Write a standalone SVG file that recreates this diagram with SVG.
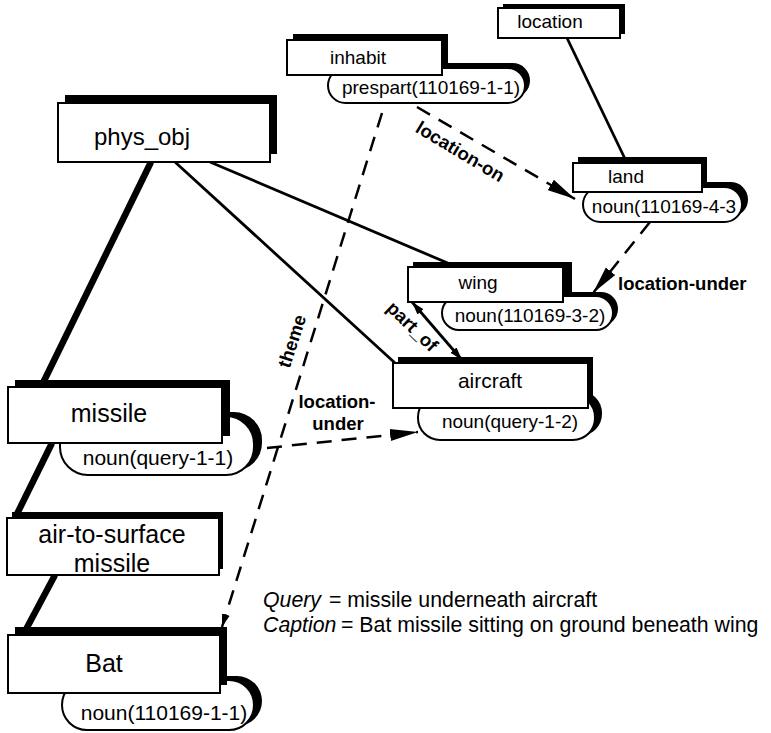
<svg xmlns="http://www.w3.org/2000/svg" width="771" height="733" viewBox="0 0 771 733">
<defs>
<style>
text{font-family:"Liberation Sans",Arial,sans-serif;fill:#000}
.lbl{text-anchor:middle}
.rel{font-weight:bold;font-size:18.5px}
.box{fill:#fff;stroke:#000;stroke-width:2}
.sh{fill:#000}
.ln{stroke:#000;fill:none;stroke-width:2.8}
.thick{stroke:#000;fill:none;stroke-width:6.5}
.dash{stroke:#000;fill:none;stroke-width:2.5;stroke-dasharray:15 10}
.cap{font-size:21.3px}
</style>
<marker id="ah" markerWidth="30" markerHeight="14" refX="28" refY="7" orient="auto" markerUnits="userSpaceOnUse">
<path d="M0,1 L28,7 L0,13 Z" fill="#000"/>
</marker>
<marker id="ahs" markerWidth="14" markerHeight="10" refX="13" refY="5" orient="auto" markerUnits="userSpaceOnUse">
<path d="M0,1 L13,5 L0,9 Z" fill="#000"/>
</marker>
<marker id="ahsStart" markerWidth="14" markerHeight="10" refX="1" refY="5" orient="auto" markerUnits="userSpaceOnUse">
<path d="M14,1 L1,5 L14,9 Z" fill="#000"/>
</marker>
</defs>

<g id="connectors">
<line class="thick" x1="151" y1="162" x2="42" y2="385"/>
<line class="ln" x1="175" y1="162" x2="395" y2="363"/>
<line class="ln" x1="210" y1="162" x2="457" y2="267"/>
<line class="thick" x1="52" y1="443" x2="15" y2="518"/>
<line class="thick" x1="55" y1="575" x2="23" y2="635"/>
<line class="ln" x1="567" y1="38" x2="627" y2="163"/>
<line class="ln" x1="412" y1="302" x2="462" y2="360" marker-start="url(#ahsStart)" marker-end="url(#ahs)"/>
<line class="dash" x1="417" y1="107" x2="575" y2="199" marker-end="url(#ah)"/>
<line class="dash" x1="650" y1="222" x2="593" y2="293" marker-end="url(#ah)"/>
<line class="dash" x1="382" y1="113" x2="222" y2="627" marker-end="url(#ahs)"/>
<line class="dash" x1="267" y1="448" x2="418" y2="432" marker-end="url(#ah)"/>
<text class="rel lbl" transform="translate(457,157) rotate(31)">location-on</text>
<text class="rel" x="618" y="290" font-size="19">location-under</text>
<text class="rel lbl" transform="translate(408,331) rotate(44)">part_of</text>
<text class="rel lbl" transform="translate(298,343) rotate(-72)">theme</text>
<text class="rel lbl" x="337" y="408">location-</text>
<text class="rel lbl" x="338" y="430">under</text>
</g>

<g id="phys_obj">
<rect class="sh" x="65" y="95" width="212" height="59"/>
<rect class="box" x="58" y="103" width="212" height="59"/>
<text class="lbl" x="142" y="145" font-size="24">phys_obj</text>
</g>

<g id="inhabit">
<rect class="sh" x="333" y="63" width="197" height="35" rx="17.5"/>
<rect class="box" x="328" y="68" width="197" height="35" rx="17.5"/>
<rect class="sh" x="293" y="34" width="155" height="35"/>
<rect class="box" x="287" y="40" width="155" height="35"/>
<text class="lbl" x="358" y="64" font-size="19">inhabit</text>
<text class="lbl" x="431" y="94" font-size="19">prespart(110169-1-1)</text>
</g>

<g id="location">
<rect class="sh" x="503" y="4" width="122" height="30"/>
<rect class="box" x="498" y="8" width="122" height="30"/>
<text class="lbl" x="550" y="28" font-size="19">location</text>
</g>

<g id="land">
<rect class="sh" x="589" y="182" width="159" height="35" rx="17.5"/>
<rect class="box" x="583" y="187" width="159" height="35" rx="17.5"/>
<rect class="sh" x="578" y="157" width="129" height="30"/>
<rect class="box" x="573" y="163" width="129" height="29"/>
<text class="lbl" x="626" y="183" font-size="19">land</text>
<text class="lbl" x="664" y="213" font-size="19">noun(110169-4-3</text>
</g>

<g id="wing">
<rect class="sh" x="447" y="292" width="171" height="34" rx="17"/>
<rect class="box" x="442" y="296" width="171" height="34" rx="17"/>
<rect class="sh" x="413" y="262" width="159" height="35"/>
<rect class="box" x="408" y="267" width="155" height="35"/>
<text class="lbl" x="478" y="289" font-size="19">wing</text>
<text class="lbl" x="530" y="322" font-size="19">noun(110169-3-2)</text>
</g>

<g id="aircraft">
<rect class="sh" x="425" y="391" width="177" height="45" rx="22"/>
<rect class="box" x="418" y="395" width="177" height="45" rx="22"/>
<rect class="sh" x="398" y="357" width="195" height="45"/>
<rect class="box" x="393" y="363" width="195" height="45"/>
<text class="lbl" x="490" y="388" font-size="21">aircraft</text>
<text class="lbl" x="510" y="428" font-size="19">noun(query-1-2)</text>
</g>

<g id="missile">
<rect class="sh" x="68" y="412" width="194" height="59" rx="28"/>
<rect class="box" x="60" y="416" width="194" height="59" rx="28"/>
<rect class="sh" x="15" y="380" width="215" height="56"/>
<rect class="box" x="8" y="387" width="214" height="56"/>
<text class="lbl" x="109" y="422" font-size="25">missile</text>
<text class="lbl" x="158" y="465" font-size="21">noun(query-1-1)</text>
</g>

<g id="air-to-surface-missile">
<rect class="sh" x="12" y="512" width="211" height="57"/>
<rect class="box" x="7" y="518" width="212" height="57"/>
<text class="lbl" x="112" y="543" font-size="25">air-to-surface</text>
<text class="lbl" x="112" y="572" font-size="25">missile</text>
</g>

<g id="Bat">
<rect class="sh" x="70" y="676" width="192" height="50" rx="25"/>
<rect class="box" x="62" y="680" width="192" height="50" rx="25"/>
<rect class="sh" x="15" y="627" width="212" height="58"/>
<rect class="box" x="8" y="635" width="212" height="58"/>
<text class="lbl" x="104" y="672" font-size="25">Bat</text>
<text class="lbl" x="164" y="720" font-size="21">noun(110169-1-1)</text>
</g>

<g id="caption">
<text class="cap" x="263" y="607" font-style="italic">Query</text>
<text class="cap" x="329" y="607">= missile underneath aircraft</text>
<text class="cap" x="263" y="632" font-style="italic">Caption</text>
<text class="cap" x="341" y="632">= Bat missile sitting on ground beneath wing</text>
</g>
</svg>
